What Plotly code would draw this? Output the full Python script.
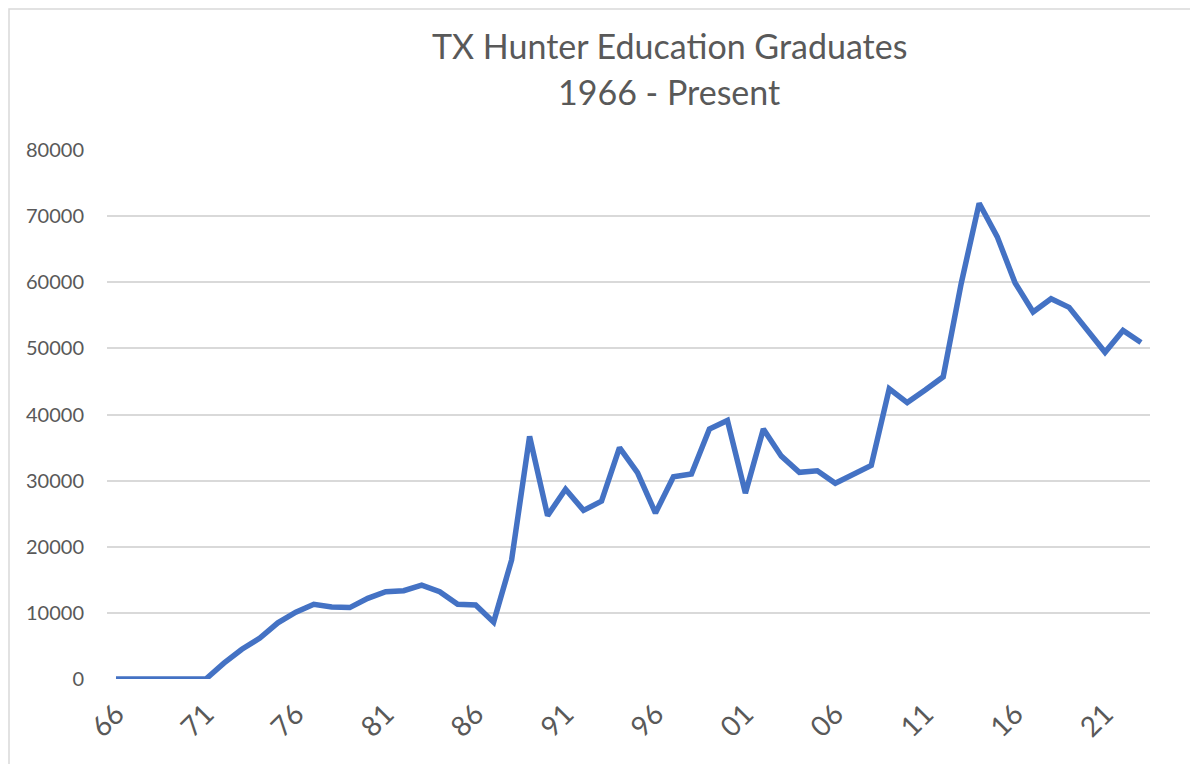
import plotly.graph_objects as go

years = list(range(1966, 2024))
graduates = [
    0, 0, 0, 0, 0, 0,                      # 66-71
    2400, 4500, 6200, 8500, 10100, 11300,  # 72-77
    10900, 10800, 12200, 13200, 13350, 14200,  # 78-83
    13200, 11300, 11200, 8600, 18000, 36700,   # 84-89
    24700, 28700, 25500, 26900, 35000, 31200,  # 90-95
    25100, 30600, 31000, 37800, 39100, 28100,  # 96-01
    37800, 33700, 31250, 31500, 29600, 30950,  # 02-07
    32300, 43900, 41800, 43700, 45700, 59800,  # 08-13
    71950, 66900, 59900, 55500, 57500, 56200,  # 14-19
    52900, 49400, 52700, 50900,                # 20-23
]
tick_years = list(range(1966, 2024, 5))
tick_labels = [f"{y % 100:02d}" for y in tick_years]
y_ticks = list(range(0, 80001, 10000))

title_line1 = "TX Hunter Education Graduates"
title_line2 = "1966 - Present"

FONT = "Lato"
GREY = "#595959"

# screenshot pixel geometry (page body has an 8px margin)
OFF = 8
L, R, T, B = 107, 1150, 150, 679
W, H = 1198 - OFF, 764 - OFF
pw, ph = R - L, B - T

def px_x(px):
    return (px - L) / pw

def px_y(py):
    return (B - py) / ph

fig = go.Figure()
fig.add_trace(go.Scatter(
    x=years, y=graduates, mode="lines",
    line=dict(color="#4472C4", width=5.5),
    hoverinfo="x+y",
))

fig.update_layout(
    width=W, height=H,
    margin=dict(l=L - OFF, r=W - (R - OFF), t=T - OFF, b=H - (B - OFF), pad=0),
    paper_bgcolor="white", plot_bgcolor="white",
    showlegend=False,
    font=dict(family=FONT, color=GREY, size=20),
    xaxis=dict(
        range=[1965.5, 2023.5],
        tickmode="array", tickvals=tick_years, ticktext=tick_labels,
        tickangle=-45, showgrid=False, zeroline=False,
        showline=False, ticks="", ticklabelstandoff=12,
        tickfont=dict(family=FONT, size=28, color=GREY),
    ),
    yaxis=dict(
        range=[0, 80000],
        tickmode="array", tickvals=y_ticks,
        ticktext=[str(v) for v in y_ticks],
        showgrid=True, gridcolor="#D9D9D9", gridwidth=1.5,
        zeroline=False, showline=False, ticks="",
        ticklabelstandoff=22,
        tickfont=dict(family=FONT, size=20, color=GREY),
    ),
    shapes=[dict(
        type="rect", xref="paper", yref="paper",
        x0=px_x(9), x1=px_x(1196.5), y0=px_y(780), y1=px_y(9),
        line=dict(color="#D9D9D9", width=1.5), fillcolor="rgba(0,0,0,0)",
        layer="below",
    )],
    annotations=[
        dict(text=title_line1, xref="paper", yref="paper",
             x=px_x(669), y=px_y(45), xanchor="center", yanchor="middle",
             showarrow=False, font=dict(family=FONT, size=34, color=GREY)),
        dict(text=title_line2, xref="paper", yref="paper",
             x=px_x(669), y=px_y(91), xanchor="center", yanchor="middle",
             showarrow=False, font=dict(family=FONT, size=34, color=GREY)),
    ],
)

fig.write_html("out.html")
